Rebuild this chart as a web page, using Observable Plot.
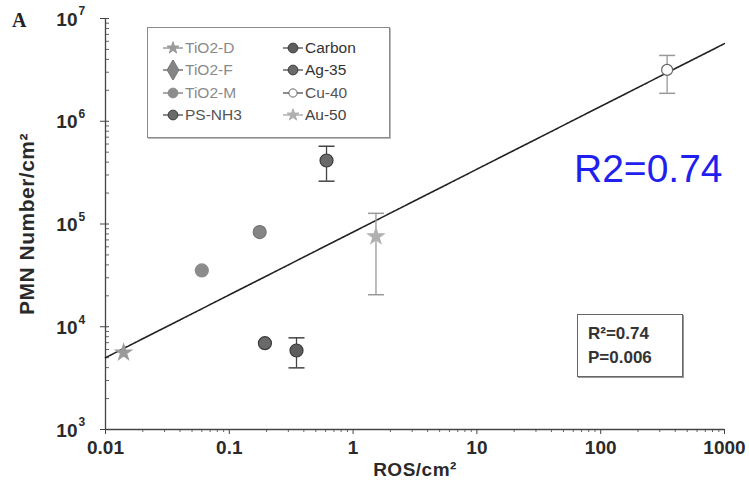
<!DOCTYPE html>
<html>
<head>
<meta charset="utf-8">
<script src="https://cdn.jsdelivr.net/npm/d3@7"></script>
<script src="https://cdn.jsdelivr.net/npm/@observablehq/plot@0.6"></script>
<style>
  html, body { margin: 0; padding: 0; background: #fff; }
  #wrap { position: relative; width: 749px; height: 491px; overflow: hidden; font-family: "Liberation Sans", Arial, sans-serif; }
  #wrap > svg { position: absolute; left: 0; top: 0; }
  #wrap > svg g[aria-label="y-axis label"] text, #wrap > svg g[aria-label="x-axis label"] text { letter-spacing: 0.5px; }
  .ov { position: absolute; }
  #panel { left: 12px; top: 9px; font-family: "Liberation Serif", "DejaVu Serif", serif; font-weight: bold; font-size: 20px; color: #222; }
  #legend { left: 147px; top: 27px; width: 241px; height: 109px; border: 1px solid #8a8a8a; box-shadow: 1px 1px 0 #bbb; background: #fff; }
  #legend .li { position: absolute; height: 20px; display: flex; align-items: center; font-size: 15.5px; white-space: nowrap; }
  #legend .li svg { position: static; display: block; }
  #stats { left: 577px; top: 314px; width: 104px; height: 61px; border: 1px solid #666; box-shadow: 1px 1px 0 #999; background: #fff; font-weight: bold; font-size: 17px; color: #333; }
  #stats div { position: absolute; left: 10px; line-height: 20px; }
  #r2big { left: 574px; top: 149px; font-size: 39px; line-height: 39px; color: #1f1fee; white-space: nowrap; }
</style>
</head>
<body>
<div id="wrap"></div>
<script>
// ---- data ----
const series   = ["TiO2-D", "TiO2-F", "TiO2-M", "PS-NH3", "Carbon", "Ag-35", "Cu-40", "Au-50"];
const ros      = [0.014, 0.176, 0.06, 0.194, 0.349, 0.61, 344, 1.53];
const pmn      = [5600, 83400, 35300, 6920, 5870, 415000, 3160000, 75600];
const errLow   = [null, null, null, null, 3980, 261000, 1870000, 20500];
const errHigh  = [null, null, null, null, 7800, 571000, 4370000, 127000];
const fitRos   = [0.01, 1000];
const fitPmn   = [5000, 5700000];
const xTicks   = [0.01, 0.1, 1, 10, 100, 1000];
const xTickLabels = ["0.01", "0.1", "1", "10", "100", "1000"];
const yTicks   = [1e3, 1e4, 1e5, 1e6, 1e7];
const yTickBase = ["10", "10", "10", "10", "10"];
const yTickExp  = ["3", "4", "5", "6", "7"];
const statLines = ["R²=0.74", "P=0.006"];
const bigLabel = "R2=0.74";

// ---- styles per series ----
const symbols   = ["star", "circle", "circle", "circle", "circle", "circle", "circle", "star"];
const legSymbols = ["star", "diamond", "circle", "circle", "circle", "circle", "circle", "star"];
const fills    = ["#9a9a9a", "#858585", "#8c8c8c", "#6a6a6a", "#5e5e5e", "#6a6a6a", "#ffffff", "#b0b0b0"];
const strokes  = ["#9a9a9a", "#777777", "#8c8c8c", "#3a3a3a", "#3a3a3a", "#3a3a3a", "#666666", "#b0b0b0"];
const radii    = [5, 6.5, 6.5, 6.5, 6.5, 6.5, 5.5, 5];
const errColor = ["#444", "#444", "#444", "#444", "#444", "#444", "#999", "#999"];
const textCol  = ["#8a8a8a", "#8a8a8a", "#8a8a8a", "#555", "#333", "#333", "#555", "#444"];

const rows = series.map((s, i) => ({
  s, x: ros[i], y: pmn[i], lo: errLow[i], hi: errHigh[i],
  sym: symbols[i], fill: fills[i], stroke: strokes[i], r: radii[i], ec: errColor[i]
}));
const errRows = rows.filter(d => d.lo != null);
const capRows = errRows.flatMap(d => [{x: d.x, y: d.lo, ec: d.ec}, {x: d.x, y: d.hi, ec: d.ec}]);
const fitRows = fitRos.map((x, i) => ({x, y: fitPmn[i]}));

const minor = (lo, hi) => {
  const out = [];
  for (let e = lo; e < hi; e++) for (let k = 2; k <= 9; k++) out.push(k * Math.pow(10, e));
  return out;
};
const xMinor = minor(-2, 3);
const yMinor = minor(3, 7);

const capSymbol = { draw(ctx, size) { const w = Math.sqrt(size / Math.PI); ctx.moveTo(-w, 0); ctx.lineTo(w, 0); } };

const chart = Plot.plot({
  width: 749, height: 491,
  marginLeft: 105, marginRight: 25, marginTop: 18, marginBottom: 62,
  x: { type: "log", domain: [0.01, 1000] },
  y: { type: "log", domain: [1e3, 1e7] },
  r: { type: "identity" },
  style: { fontFamily: "'Liberation Sans', Arial, sans-serif", fontSize: "14px", fontWeight: "bold", color: "#2a2a2a", background: "transparent" },
  marks: [
    Plot.axisX({ ticks: xMinor, tickSize: 3, tickFormat: () => "", label: null, stroke: "#666" }),
    Plot.axisX({ ticks: xTicks, tickSize: 5, tickPadding: 6, tickFormat: d => xTickLabels[xTicks.indexOf(d)],
      label: "ROS/cm²", labelAnchor: "center", labelArrow: "none", labelOffset: 46, fontSize: 19, stroke: "#444" }),
    Plot.axisY({ ticks: yMinor, tickSize: -4, tickFormat: () => "", label: null, stroke: "#666" }),
    Plot.axisY({ ticks: yTicks, tickSize: -4, tickFormat: () => "", label: null, stroke: "#444" }),
    Plot.axisY({ ticks: yTicks, tickSize: 5, tickFormat: () => "",
      label: "PMN Number/cm²", labelAnchor: "center", labelArrow: "none", labelOffset: 86, fontSize: 21, stroke: "#444" }),
    Plot.text(yTicks, { y: d => d, text: (d, i) => yTickBase[i], frameAnchor: "left", textAnchor: "end", dx: -28, dy: 1, fontSize: 19, fontWeight: "bold", fill: "#2a2a2a" }),
    Plot.text(yTicks, { y: d => d, text: (d, i) => yTickExp[i], frameAnchor: "left", textAnchor: "start", dx: -27, dy: -7, fontSize: 12, fontWeight: "bold", fill: "#2a2a2a" }),
    Plot.ruleX([0.01], { stroke: "#444", strokeWidth: 1.3 }),
    Plot.ruleY([1e3], { stroke: "#444", strokeWidth: 1.3 }),
    Plot.line(fitRows, { x: "x", y: "y", stroke: "#222", strokeWidth: 1.6, strokeDasharray: "4,1" }),
    Plot.ruleX(errRows, { x: "x", y1: "lo", y2: "hi", stroke: "ec", strokeWidth: 1.3 }),
    Plot.dot(capRows, { x: "x", y: "y", symbol: capSymbol, r: 8, stroke: "ec", strokeWidth: 1.5 }),
    Plot.dot(rows, { x: "x", y: "y", symbol: "sym", fill: "fill", stroke: "stroke", r: "r", strokeWidth: 1.2 })
  ]
});

const wrap = document.getElementById("wrap");
wrap.appendChild(chart);

// panel letter
const panel = document.createElement("div");
panel.className = "ov"; panel.id = "panel"; panel.textContent = "A";
wrap.appendChild(panel);

// legend
const legend = document.createElement("div");
legend.className = "ov"; legend.id = "legend";
const symMap = { star: d3.symbolStar, diamond: d3.symbolDiamond, circle: d3.symbolCircle };
series.forEach((s, i) => {
  const col = i < 4 ? 0 : 1, row = i % 4;
  const item = document.createElement("div");
  item.className = "li";
  item.style.left = (col === 0 ? 14 : 134) + "px";
  item.style.top = (10 + row * 22.3) + "px";
  item.style.color = textCol[i];
  const ns = "http://www.w3.org/2000/svg";
  const sv = document.createElementNS(ns, "svg");
  sv.setAttribute("width", 22); sv.setAttribute("height", 20);
  const ln = document.createElementNS(ns, "line");
  ln.setAttribute("x1", 1); ln.setAttribute("x2", 21); ln.setAttribute("y1", 10); ln.setAttribute("y2", 10);
  ln.setAttribute("stroke", strokes[i] === "#3a3a3a" ? "#666" : strokes[i]); ln.setAttribute("stroke-width", 1.5);
  sv.appendChild(ln);
  const p = document.createElementNS(ns, "path");
  const rr = radii[i] * (legSymbols[i] === "diamond" ? 0.95 : 0.75);
  p.setAttribute("d", d3.symbol(symMap[legSymbols[i]], Math.PI * rr * rr)());
  p.setAttribute("transform", "translate(11,10)");
  p.setAttribute("fill", fills[i]); p.setAttribute("stroke", strokes[i]); p.setAttribute("stroke-width", 1);
  sv.appendChild(p);
  item.appendChild(sv);
  const t = document.createElement("span");
  t.textContent = s; t.style.marginLeft = "1px";
  item.appendChild(t);
  legend.appendChild(item);
});
wrap.appendChild(legend);

// stats box
const stats = document.createElement("div");
stats.className = "ov"; stats.id = "stats";
statLines.forEach((t, i) => {
  const d = document.createElement("div");
  d.textContent = t; d.style.top = (9 + i * 24) + "px";
  stats.appendChild(d);
});
wrap.appendChild(stats);

// big blue label
const big = document.createElement("div");
big.className = "ov"; big.id = "r2big"; big.textContent = bigLabel;
wrap.appendChild(big);
</script>
</body>
</html>
